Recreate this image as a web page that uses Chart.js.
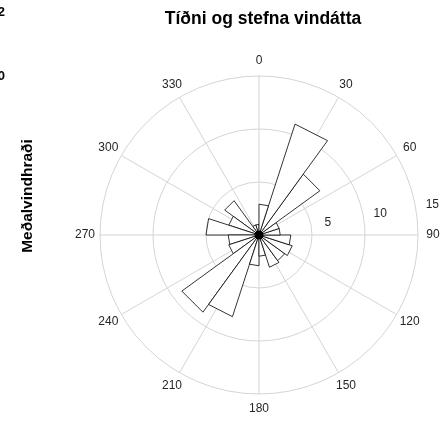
<!DOCTYPE html>
<html>
<head>
<meta charset="utf-8">
<script src="https://cdn.jsdelivr.net/npm/chart.js@4"></script>
<style>
  html, body { margin: 0; padding: 0; background: #fff; }
  #wrap { width: 444px; height: 421px; }
</style>
</head>
<body>
<div id="wrap"><canvas id="roseChart"></canvas></div>
<script>
// Wind rose: 20 direction bins of 18 degrees, clockwise from north
const binStarts = [0, 18, 36, 54, 72, 90, 108, 126, 144, 162, 180, 198, 216, 234, 252, 270, 288, 306, 324, 342];
const binValues = [2.9, 11.0, 7.1, 2.0, 2.0, 3.0, 3.3, 3.0, 3.2, 2.0, 2.9, 8.1, 9.0, 3.0, 2.9, 5.0, 3.0, 4.0, 1.0, 1.0];
const angleTicks = [0, 30, 60, 90, 120, 150, 180, 210, 240, 270, 300, 330];
const radialTicks = [5, 10, 15];

const titleText = 'Tíðni og stefna vindátta';
const yLabelText = 'Meðalvindhraði';

// radar labels every 6 degrees so both the 18 degree bins and 30 degree spokes land on a label
const step = 6;
const labels = [];
for (let a = 0; a < 360; a += step) labels.push(a);

const binWidth = 18;
const datasets = binValues.map((v, i) => {
    const data = labels.map(() => 0);
    const a = binStarts[i] / step;
    const b = ((binStarts[i] + binWidth) % 360) / step;
    data[a] = v;
    data[b] = v;
    for (let k = a + 1; k < a + binWidth / step; k++) data[k % labels.length] = null;
    return {
        data: data,
        fill: 'origin',
        backgroundColor: '#ffffff',
        borderColor: '#000000',
        borderWidth: 0.8,
        pointRadius: 0,
        spanGaps: true,
        tension: 0
    };
});

// black dot at the centre
datasets.push({
    data: labels.map((l, i) => (i === 0 ? 0 : null)),
    showLine: false,
    pointRadius: 4,
    pointBackgroundColor: '#000',
    pointBorderColor: '#000',
    order: -1
});

// position on the polar axes, angle in degrees clockwise from north
function polarPos(scale, deg, dist) {
    const a = deg * Math.PI / 180;
    return { x: scale.xCenter + dist * Math.sin(a), y: scale.yCenter - dist * Math.cos(a) };
}

const textPlugin = {
    id: 'roseText',
    afterDraw(chart) {
        const ctx = chart.ctx;
        const scale = chart.scales.r;
        ctx.save();
        ctx.fillStyle = '#262626';
        ctx.textAlign = 'center';
        ctx.textBaseline = 'middle';
        ctx.font = '12px "Liberation Sans", Arial, sans-serif';

        // direction labels
        angleTicks.forEach(t => {
            const p = polarPos(scale, t, scale.drawingArea + 15);
            ctx.fillText(String(t), p.x, p.y);
        });

        // radial tick labels
        radialTicks.forEach(t => {
            const p = polarPos(scale, 80, scale.getDistanceFromCenterForValue(t) + 17);
            ctx.fillText(String(t), p.x, p.y);
        });

        // title
        ctx.fillStyle = '#000';
        ctx.font = 'bold 17.5px "Liberation Sans", Arial, sans-serif';
        ctx.fillText(titleText, 263, 19);

        // y axis label
        ctx.font = 'bold 15.5px "Liberation Sans", Arial, sans-serif';
        ctx.save();
        ctx.translate(28, 196);
        ctx.rotate(-Math.PI / 2);
        ctx.fillText(yLabelText, 0, 0);
        ctx.restore();

        // cut-off tick labels from the neighbouring panel
        ctx.textAlign = 'right';
        ctx.font = 'bold 13px "Liberation Sans", Arial, sans-serif';
        ctx.fillText('2', 5, 12);
        ctx.fillText('0', 5, 76);
        ctx.restore();
    }
};

new Chart(document.getElementById('roseChart'), {
    type: 'radar',
    data: {
        labels: labels,
        datasets: datasets
    },
    options: {
        responsive: true,
        maintainAspectRatio: false,
        animation: false,
        layout: {
            padding: { left: 100, right: 26, top: 76, bottom: 27 }
        },
        elements: {
            line: { tension: 0 }
        },
        plugins: {
            legend: { display: false },
            tooltip: { enabled: false },
            title: { display: false }
        },
        scales: {
            r: {
                min: 0,
                max: 15,
                startAngle: 0,
                ticks: { display: false, stepSize: 5 },
                pointLabels: { display: false },
                grid: { circular: true, color: '#d4d4d4', lineWidth: 1 },
                angleLines: {
                    display: true,
                    lineWidth: 1,
                    color: ctx => (ctx.index % 5 === 0 ? '#d4d4d4' : 'rgba(0,0,0,0)')
                }
            }
        }
    },
    plugins: [textPlugin]
});
</script>
</body>
</html>
